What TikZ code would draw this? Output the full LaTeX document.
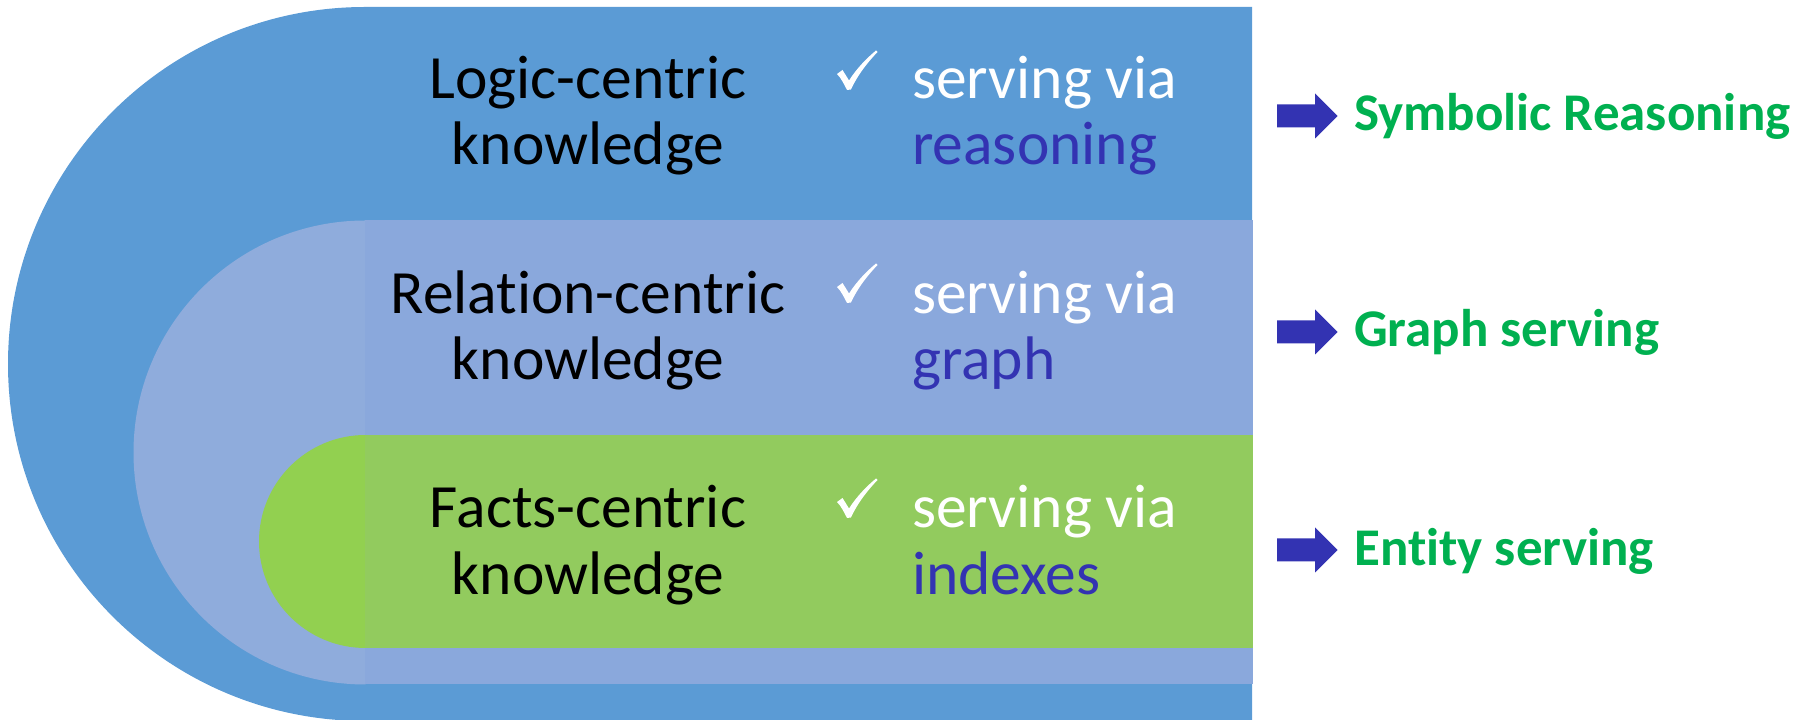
\documentclass[tikz,border=0pt]{standalone}
\usepackage{fontspec}
\setmainfont{Carlito}[Ligatures=NoCommon]
\definecolor{outerblue}{HTML}{5B9BD5}
\definecolor{lavhalf}{HTML}{8FACDC}
\definecolor{lavrect}{HTML}{8AA8DC}
\definecolor{greenhalf}{HTML}{92D050}
\definecolor{greenrect}{HTML}{92CB5E}
\definecolor{darkblue}{HTML}{3333B2}
\definecolor{labelgreen}{HTML}{00B050}
\begin{document}
\begin{tikzpicture}[x=1pt,y=1pt,
  lefttext/.style={font=\fontsize{61.5}{66}\selectfont, inner sep=0pt, anchor=base, text=black},
  righttext/.style={font=\fontsize{61.5}{66}\selectfont, inner sep=0pt, anchor=base west, text=white},
  keyword/.style={righttext, text=darkblue},
  label/.style={font=\fontsize{53}{60}\selectfont\bfseries, inner sep=0pt, anchor=base west, text=labelgreen},
  checkmark/.pic={\fill[white] (0,0) .. controls (-3,6) and (-6,12) .. (-10,16) -- (-4.5,20) .. controls (-2,16) and (0,13) .. (2,9.5) .. controls (10,22) and (20,32) .. (29,39.5) -- (30.5,38) .. controls (20,27) and (10,14) .. (4,0.5) -- cycle;},
  blockarrow/.pic={\fill[darkblue] (0,-11.5) -- (38,-11.5) -- (38,-22.5) -- (60.5,0) -- (38,22.5) -- (38,11.5) -- (0,11.5) -- cycle;}
]
\useasboundingbox (0,0) rectangle (1813,720);
% outer layer
\fill[outerblue] (1252,713) -- (365,713) arc[start angle=90,end angle=270,radius=357] -- (1252,-1) -- cycle;
% middle layer
\fill[lavhalf] (365.5,499.5) arc[start angle=90,end angle=270,radius=232] -- cycle;
\fill[lavrect] (365,35.5) rectangle (1253,499.5);
% inner layer
\fill[greenhalf] (365.5,285) arc[start angle=90,end angle=270,radius=106.5] -- cycle;
\fill[greenrect] (365,72) rectangle (1253,285);

% left texts
\node[lefttext] (l1a) at (588,621.5) {Logic-centric};
\node[lefttext] (l1b) at (588,555.5) {knowledge};
\node[lefttext] (l2a) at (588,406) {Relation-centric};
\node[lefttext] (l2b) at (588,340.5) {knowledge};
\node[lefttext] (l3a) at (588,192.5) {Facts-centric};
\node[lefttext] (l3b) at (588,125.5) {knowledge};

% checks
\pic at (847,630) {checkmark};
\pic at (847,417) {checkmark};
\pic at (847,202) {checkmark};

% right texts
\node[righttext] (r1a) at (912,621.5) {serving via};
\node[keyword] (r1b) at (912,555.5) {reasoning};
\node[righttext] (r2a) at (912,406) {serving via};
\node[keyword] (r2b) at (912,340.5) {graph};
\node[righttext] (r3a) at (912,192.5) {serving via};
\node[keyword] (r3b) at (912,125.5) {indexes};

% arrows and labels
\pic at (1277,604) {blockarrow};
\pic at (1277,388) {blockarrow};
\pic at (1277,170) {blockarrow};
\node[label] (s1) at (1354,589.5) {Symbolic Reasoning};
\node[label] (s2) at (1354,373.3) {Graph serving};
\node[label] (s3) at (1354,154) {Entity serving};
\end{tikzpicture}
\end{document}
